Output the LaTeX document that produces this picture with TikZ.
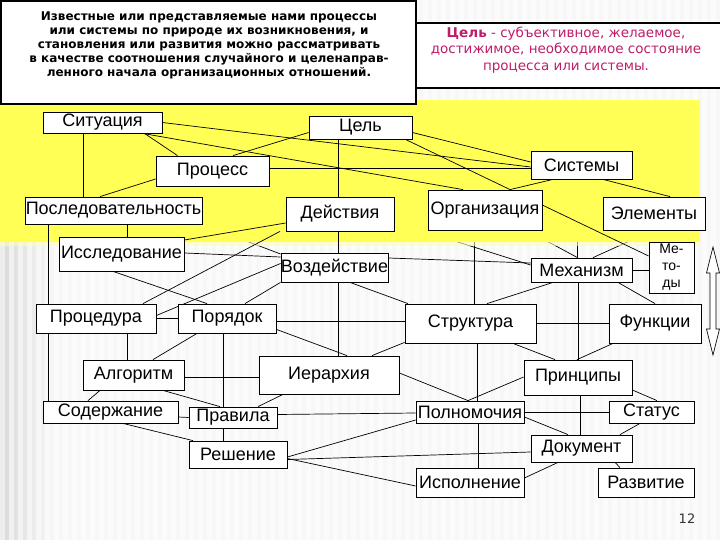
\documentclass[tikz,border=0pt]{standalone}
\usepackage{fontspec}
\setmainfont{Liberation Sans}
\newfontfamily\verd{DejaVu Sans}
\usetikzlibrary{backgrounds}
\definecolor{bandyellow}{RGB}{255,255,85}
\definecolor{goalpink}{RGB}{190,30,105}

\begin{document}
\begin{tikzpicture}[x=1pt,y=-1pt,font=\fontsize{18}{20}\selectfont,
  box/.style={draw,fill=white,inner sep=0pt,line width=0.8pt},
  link/.style={line width=0.7pt}]
  \useasboundingbox (0,0) rectangle (720,540);

  \node[draw,fill=white,line width=1.2pt,minimum width=415pt,minimum height=103pt] (intro) at (208.5,52.5) {};
  \node[align=center,font=\verd\bfseries\fontsize{12}{14}\selectfont] (introtext) at (209,45)
    {Известные или представляемые нами процессы\\или системы по природе их возникновения, и\\становления или развития можно рассматривать\\в качестве соотношения случайного и целенаправ-\\ленного начала организационных отношений.};
  \node[draw,fill=white,line width=1.2pt,minimum width=306pt,minimum height=65pt] (goalbox) at (569,55.5) {};
  \node[align=center,text=goalpink,font=\verd\fontsize{13.5}{16.5}\selectfont] (goaltext) at (566,50)
    {\textbf{Цель} - субъективное, желаемое,\\достижимое, необходимое состояние\\процесса или системы.};

  \node[box,minimum width=119pt,minimum height=21pt] (sit) at (102.5,122.5) {Ситуация};
  \node[box,minimum width=103pt,minimum height=23pt] (cel) at (360.5,127.5) {Цель};
  \node[box,minimum width=113pt,minimum height=30pt] (proc) at (212.5,171) {Процесс};
  \node[box,minimum width=101pt,minimum height=28pt] (sist) at (581.5,165) {Системы};
  \node[box,minimum width=177pt,minimum height=27pt] (posl) at (113.5,210.5) {Последовательность};
  \node[box,minimum width=108pt,minimum height=34pt] (deys) at (340,214) {Действия};
  \node[box,minimum width=114pt,minimum height=40pt] (org) at (485,210) {Организация};
  \node[box,minimum width=102pt,minimum height=33pt] (elem) at (654,213.5) {Элементы};
  \node[box,minimum width=125pt,minimum height=34pt] (issl) at (121.5,254) {Исследование};
  \node[box,minimum width=107pt,minimum height=29pt] (vozd) at (334.5,267.5) {Воздействие};
  \node[box,minimum width=101pt,minimum height=24pt] (mekh) at (581.5,270) {Механизм};
  \node[box,minimum width=45pt,minimum height=51pt,align=center,font=\fontsize{14}{17}\selectfont] (metod) at (671.5,267.5) {Ме-\\то-\\ды};
  \node[box,minimum width=120pt,minimum height=29pt] (protsed) at (96,318.5) {Процедура};
  \node[box,minimum width=98pt,minimum height=29pt] (poryad) at (227,318.5) {Порядок};
  \node[box,minimum width=131pt,minimum height=39pt] (struk) at (470.5,323.5) {Структура};
  \node[box,minimum width=92pt,minimum height=39pt] (funk) at (655,323.5) {Функции};
  \node[box,minimum width=101pt,minimum height=30pt] (algo) at (133.5,375) {Алгоритм};
  \node[box,minimum width=140pt,minimum height=38pt] (ierar) at (329,375) {Иерархия};
  \node[box,minimum width=108pt,minimum height=35pt] (princ) at (578,377.5) {Принципы};
  \node[box,minimum width=135pt,minimum height=22pt] (soder) at (110.5,412) {Содержание};
  \node[box,minimum width=88pt,minimum height=21pt] (prav) at (233,417.5) {Правила};
  \node[box,minimum width=108pt,minimum height=22pt] (polnom) at (470,412) {Полномочия};
  \node[box,minimum width=85pt,minimum height=22pt] (status) at (651.5,412) {Статус};
  \node[box,minimum width=98pt,minimum height=27pt] (resh) at (238,454.5) {Решение};
  \node[box,minimum width=101pt,minimum height=27pt] (dok) at (581.5,448.5) {Документ};
  \node[box,minimum width=108pt,minimum height=29pt] (ispoln) at (470,482.5) {Исполнение};
  \node[box,minimum width=96pt,minimum height=29pt] (razv) at (646,482.5) {Развитие};
  \node[font=\verd\fontsize{13}{15}\selectfont,text=black!80] (pagenum) at (687,519) {12};

  \begin{pgfonlayer}{background}
    \fill[gray!6] (0,0) rectangle (720,540);
    \shade[left color=gray!30,right color=gray!6] (0,0) rectangle (55,540);
    \foreach \x in {0,9,...,711}{\fill[white,opacity=0.55] (\x,0) rectangle ++(4.5,540);}

    \draw[link] (posl.south east) -- ([yshift=13.5pt]vozd.west);
    \draw[link] ([yshift=-8pt]deys.east) -- ([yshift=5pt]mekh.west);
    \draw[link] ([xshift=-11pt]org.south) -- ([xshift=3.5pt]struk.north);
    \draw[link] ([xshift=42pt]org.south) -- ([xshift=-4pt]mekh.north);
    \draw[link] ([xshift=-4pt]sist.south) -- ([xshift=-4pt]mekh.north);
    \draw[link] ([xshift=-1pt]elem.south) -- ([xshift=11.5pt]mekh.north);

    \fill[bandyellow] (0,100) rectangle (700,242);
    \fill[bandyellow!45,opacity=0.6] (0,242) rectangle (700,246);

    \draw[link] (sit.east) -- ([yshift=-2pt]sist.west);
    \draw[link] ([xshift=40pt]sit.south) -- ([xshift=-22pt]org.north);
    \draw[link] ([xshift=42pt]sit.south) -- ([xshift=-35pt]proc.north);
    \draw[link] ([xshift=-19.5pt]sit.south) -- ([xshift=-30.5pt]posl.north);
    \draw[link] ([yshift=-5pt]cel.west) -- ([xshift=20.5pt]proc.north);
    \draw[link] ([yshift=-5pt]cel.east) -- ([yshift=3pt]sist.west);
    \draw[link] ([xshift=-22.5pt]cel.south) -- ([xshift=-2pt]deys.north);
    \draw[link] ([xshift=-7pt]cel.south east) -- ([yshift=11.5pt]metod.west);
    \draw[link] ([yshift=3pt]proc.east) -- ([yshift=-3pt]sist.west);
    \draw[link] ([yshift=-8pt]proc.west) -- ([xshift=-13.5pt]posl.north);
    \draw[link] ([xshift=-28.5pt]sist.south) -- ([xshift=25pt]org.north);
    \draw[link] ([xshift=21.5pt]sist.south) -- ([xshift=16pt]elem.north);
    \draw[link] ([xshift=13.5pt]posl.south) -- ([xshift=5.5pt]issl.north);
    \draw[link] ([xshift=-65.5pt]posl.south) -- ([xshift=-48pt]protsed.north);
    \draw[link] ([yshift=-9pt]deys.west) -- ([yshift=14pt]issl.east);
    \draw[link] ([xshift=-60pt]deys.south) -- ([xshift=47pt]protsed.north);
    \draw[link] ([xshift=-2pt]deys.south) -- ([xshift=3.5pt]vozd.north);
    \draw[link] ([yshift=1pt]issl.east) -- ([yshift=10.5pt]vozd.west);
    \draw[link] ([xshift=-8.5pt]issl.south) -- ([xshift=-20pt]poryad.north);
    \draw[link] ([yshift=4pt]vozd.west) -- ([yshift=3pt]protsed.east);
    \draw[link] (vozd.south west) -- ([xshift=18pt]poryad.north);
    \draw[link] ([xshift=3.5pt]vozd.south) -- ([xshift=9pt]ierar.north);
    \draw[link] ([xshift=15.5pt]vozd.south) -- ([xshift=-62.5pt]struk.north);
    \draw[link] ([yshift=9.5pt]vozd.east) -- ([yshift=7pt]mekh.west);
    \draw[link] (mekh.east) -- ([yshift=-2.5pt]metod.west);
    \draw[link] ([xshift=36.5pt]mekh.south) -- (funk.north);
    \draw[link] ([xshift=-28.5pt]mekh.south) -- ([xshift=16.5pt]struk.north);
    \draw[link] ([xshift=-3.5pt]mekh.south) -- (princ.north);
    \draw[link] (struk.east) -- (funk.west);
    \draw[link] ([yshift=-2.5pt]poryad.east) -- ([yshift=2.5pt]struk.west);
    \draw[link] (protsed.east) -- (poryad.west);
    \draw[link] ([xshift=31pt]protsed.south) -- ([xshift=-6.5pt]algo.north);
    \draw[link] ([xshift=-48pt]protsed.south) -- ([xshift=-62.5pt]soder.north);
    \draw[link] ([xshift=-30pt]poryad.south) -- ([xshift=19.5pt]algo.north);
    \draw[link] ([xshift=-4pt]poryad.south) -- ([xshift=-10pt]prav.north);
    \draw[link] ([yshift=4pt]poryad.south east) -- ([xshift=18pt]ierar.north);
    \draw[link] ([yshift=1pt]struk.south west) -- ([xshift=43pt]ierar.north);
    \draw[link] ([yshift=-2pt]algo.east) -- ([yshift=-2pt]ierar.west);
    \draw[link] ([xshift=-33.5pt]algo.south) -- ([xshift=-22.5pt]soder.north);
    \draw[link] ([xshift=29.5pt]algo.south) -- ([xshift=-13pt]prav.north);
    \draw[link] ([xshift=-46pt]ierar.south) -- ([xshift=25pt]prav.north);
    \draw[link] ([yshift=-5pt]soder.east) -- (prav.west);
    \draw[link] ([xshift=12.5pt]soder.south) -- ([xshift=-45pt]resh.north);
    \draw[link] ([xshift=-10pt]prav.south) -- ([xshift=-15pt]resh.north);
    \draw[link] ([yshift=3pt]prav.east) -- ([yshift=-1pt]polnom.west);
    \draw[link] ([yshift=-2.5pt]resh.east) -- ([yshift=-8pt]polnom.west);
    \draw[link] ([yshift=-5pt]resh.east) -- ([yshift=-3.5pt]dok.west);
    \draw[link] ([yshift=-4pt]resh.east) -- ([yshift=-3.5pt]ispoln.west);
    \draw[link] ([yshift=2pt]ierar.east) -- ([xshift=-2pt]polnom.north);
    \draw[link] ([xshift=-2pt]polnom.north) -- ([yshift=0.5pt]princ.west);
    \draw[link] ([xshift=6.5pt]struk.south) -- ([xshift=7pt]polnom.north);
    \draw[link] ([xshift=42.5pt]struk.south) -- ([xshift=-23pt]princ.north);
    \draw[link] ([xshift=-42pt]funk.south) -- ([xshift=-1pt]princ.north);
    \draw[link] ([yshift=-12.5pt]princ.east) -- ([xshift=5.5pt]status.north);
    \draw[link] (polnom.east) -- (status.west);
    \draw[link] ([yshift=-5pt]polnom.east) -- ([xshift=-13.5pt]dok.north);
    \draw[link] ([xshift=2pt]princ.south) -- ([xshift=-1.5pt]dok.north);
    \draw[link] ([xshift=-11.5pt]status.south) -- ([xshift=38.5pt]dok.north);
    \draw[link] ([xshift=8pt]polnom.south) -- ([xshift=8pt]ispoln.north);
    \draw[link] ([xshift=-23.5pt]dok.south) -- ([yshift=4.5pt]ispoln.east);
    \draw[link] ([xshift=33.5pt]dok.south) -- ([xshift=-26pt]razv.north);

    \draw[fill=white,line width=0.7pt] (713,247) -- (719.5,273) -- (716,273) -- (716,329) -- (719.5,329)
      -- (713,355) -- (706.5,329) -- (710,329) -- (710,273) -- (706.5,273) -- cycle;
  \end{pgfonlayer}
\end{tikzpicture}
\end{document}
